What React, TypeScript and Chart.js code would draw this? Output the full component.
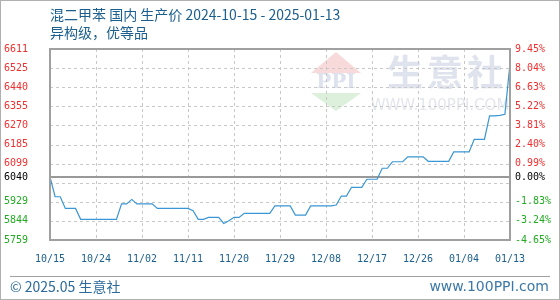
import React, { useEffect, useRef } from 'react';
import { Chart, registerables } from 'chart.js';

Chart.register(...registerables);

const TITLE = '混二甲苯 国内 生产价 2024-10-15 - 2025-01-13';
const SUBTITLE = '异构级，优等品';
const FOOTER_LEFT = '© 2025.05 生意社';
const FOOTER_RIGHT = 'www.100PPI.com';
const WATERMARK = ['生', '意', '社'];
const WATERMARK_URL = 'WWW.100PPI.COM';

const X_TICK_LABELS = ['10/15', '10/24', '11/02', '11/11', '11/20', '11/29', '12/08', '12/17', '12/26', '01/04', '01/13'];
const DAYS_PER_TICK = 9;

const BASE_PRICE = 6040;
const Y_MIN = 5759;
const Y_MAX = 6611;
const Y_INTERVALS = 10;

// daily price, 2024-10-15 .. 2025-01-13
const PRICES = [
  6040, 5952, 5952, 5900, 5900, 5900, 5851, 5851, 5851, 5851,
  5851, 5851, 5851, 5851, 5920, 5920, 5940, 5920, 5920, 5920,
  5920, 5900, 5900, 5900, 5900, 5900, 5900, 5900, 5890, 5851,
  5851, 5860, 5860, 5860, 5833, 5845, 5860, 5860, 5878, 5878,
  5878, 5878, 5878, 5878, 5911, 5911, 5911, 5911, 5870, 5870,
  5870, 5911, 5911, 5911, 5911, 5911, 5915, 5955, 5955, 5994,
  5994, 5994, 6030, 6030, 6030, 6079, 6079, 6108, 6108, 6108,
  6130, 6130, 6130, 6130, 6110, 6110, 6110, 6110, 6110, 6152,
  6152, 6152, 6152, 6208, 6208, 6208, 6313, 6313, 6315, 6320,
  6545,
];

const RED = '#f03030';
const GREEN = '#22aa22';
const BLUE_TEXT = '#1b5f8e';
const TICK_FONT = { family: '"DejaVu Sans Mono", monospace', size: 10 };

const yStep = (Y_MAX - Y_MIN) / Y_INTERVALS;
const isHiddenGrid = (v: number) => v !== BASE_PRICE && Math.abs(v - BASE_PRICE) < yStep / 2;

function buildYTicks() {
  const vals: number[] = [];
  for (let i = 0; i <= Y_INTERVALS; i++) vals.push(Y_MIN + i * yStep);
  vals.push(BASE_PRICE);
  vals.sort((a, b) => a - b);
  return vals.map((value) => ({ value }));
}

const tickColor = (v: number) => (Math.abs(v - BASE_PRICE) < 1e-6 ? '#000' : v > BASE_PRICE ? RED : GREEN);

const decorPlugin = {
  id: 'decor',
  beforeDraw(chart: any) {
    const ctx = chart.ctx as CanvasRenderingContext2D;
    const W = chart.width;
    const H = chart.height;
    ctx.save();
    ctx.fillStyle = '#fff';
    ctx.fillRect(0, 0, W, H);
    ctx.strokeStyle = '#b0b0b0';
    ctx.lineWidth = 1;
    ctx.strokeRect(0.5, 0.5, W - 1, H - 1);

    // title
    ctx.fillStyle = BLUE_TEXT;
    ctx.textAlign = 'left';
    ctx.textBaseline = 'middle';
    ctx.font = '14px "Noto Sans CJK SC", sans-serif';
    ctx.fillText(TITLE, 50, 15);
    ctx.fillText(SUBTITLE, 50, 33);

    // footer
    ctx.strokeStyle = '#a0a0a0';
    ctx.beginPath();
    ctx.moveTo(10, 276.5);
    ctx.lineTo(550, 276.5);
    ctx.stroke();
    ctx.fillStyle = '#2a6a9c';
    ctx.font = '14px "Noto Sans CJK SC", sans-serif';
    ctx.fillText(FOOTER_LEFT, 10, 287);
    ctx.textAlign = 'right';
    ctx.fillStyle = '#3c78a8';
    ctx.font = '14px "DejaVu Sans", sans-serif';
    ctx.fillText(FOOTER_RIGHT, 549, 287);

    // watermark logo
    ctx.fillStyle = '#f9dada';
    ctx.beginPath();
    ctx.moveTo(336, 52);
    ctx.lineTo(361, 73);
    ctx.lineTo(311, 73);
    ctx.closePath();
    ctx.fill();
    ctx.fillStyle = '#dde2ee';
    ctx.font = 'bold 20px "DejaVu Serif", serif';
    ctx.textAlign = 'center';
    ctx.fillText('PPI', 336, 83);
    ctx.fillStyle = '#dcf0dc';
    ctx.beginPath();
    ctx.moveTo(311, 93);
    ctx.lineTo(361, 93);
    ctx.lineTo(336, 111);
    ctx.closePath();
    ctx.fill();

    // watermark text
    ctx.fillStyle = '#dfe3ed';
    ctx.font = 'bold 36px "Noto Sans CJK SC", sans-serif';
    WATERMARK.forEach((c, i) => ctx.fillText(c, 405 + i * 40, 72));
    ctx.fillStyle = '#e4e6ec';
    ctx.font = '15px "DejaVu Sans", sans-serif';
    ctx.fillText(WATERMARK_URL, 440, 106);
    ctx.restore();
  },
  beforeDatasetsDraw(chart: any) {
    const ctx = chart.ctx as CanvasRenderingContext2D;
    const { left, right, top, bottom } = chart.chartArea;
    const xs = chart.scales.x;
    const ys = chart.scales.y;
    ctx.save();
    // dashed grid
    ctx.strokeStyle = '#c8c8c8';
    ctx.lineWidth = 1;
    ctx.setLineDash([3, 3]);
    ctx.beginPath();
    xs.ticks.forEach((t: any) => {
      const x = Math.round(xs.getPixelForValue(t.value)) + 0.5;
      ctx.moveTo(x, top);
      ctx.lineTo(x, bottom);
    });
    ys.ticks.forEach((t: any) => {
      if (t.value === BASE_PRICE) return;
      const y = Math.round(ys.getPixelForValue(t.value)) + 0.5;
      ctx.moveTo(left, y);
      ctx.lineTo(right, y);
    });
    ctx.stroke();
    ctx.setLineDash([]);
    // base line
    const yb = Math.round(ys.getPixelForValue(BASE_PRICE));
    ctx.strokeStyle = '#999';
    ctx.lineWidth = 2;
    ctx.beginPath();
    ctx.moveTo(left, yb);
    ctx.lineTo(right, yb);
    ctx.stroke();
    ctx.restore();
  },
  afterDraw(chart: any) {
    const ctx = chart.ctx as CanvasRenderingContext2D;
    const { left, right, top, bottom } = chart.chartArea;
    ctx.save();
    ctx.strokeStyle = '#a0a0a0';
    ctx.lineWidth = 2;
    ctx.strokeRect(left, top, right - left, bottom - top);
    ctx.restore();
  },
};

export default function App() {
  const ref = useRef<HTMLCanvasElement>(null);
  useEffect(() => {
    if (!ref.current) return;
    const chart = new Chart(ref.current, {
      type: 'line',
      data: {
        datasets: [
          {
            data: PRICES.map((p, i) => ({ x: i, y: p })),
            borderColor: '#3a96d4',
            borderWidth: 1.2,
            pointRadius: 0,
            tension: 0,
            fill: false,
            yAxisID: 'y',
          },
        ],
      },
      options: {
        animation: false,
        responsive: false,
        maintainAspectRatio: false,
        layout: { padding: { top: 49, left: 0, right: 0, bottom: 0 } },
        plugins: { legend: { display: false }, tooltip: { enabled: false }, title: { display: false } },
        scales: {
          x: {
            type: 'linear',
            min: 0,
            max: (X_TICK_LABELS.length - 1) * DAYS_PER_TICK,
            afterBuildTicks: (s: any) => {
              s.ticks = X_TICK_LABELS.map((_, i) => ({ value: i * DAYS_PER_TICK }));
            },
            afterFit: (s: any) => {
              s.height = 60;
            },
            grid: { display: false, drawTicks: false },
            border: { display: false },
            ticks: {
              autoSkip: false,
              maxRotation: 0,
              padding: 13,
              color: BLUE_TEXT,
              font: TICK_FONT,
              callback: (v: any) => X_TICK_LABELS[Math.round(Number(v) / DAYS_PER_TICK)] ?? '',
            },
          },
          y: {
            position: 'left',
            min: Y_MIN,
            max: Y_MAX,
            afterBuildTicks: (s: any) => {
              s.ticks = buildYTicks();
            },
            afterFit: (s: any) => {
              s.width = 50;
            },
            grid: { display: false, drawTicks: false },
            border: { display: false },
            ticks: {
              padding: 22,
              font: TICK_FONT,
              color: (c: any) => tickColor(c.tick.value),
              callback: (v: any) => {
                const n = Number(v);
                if (isHiddenGrid(n)) return '';
                return String(Math.floor(n + 1e-6));
              },
            },
          },
          y1: {
            position: 'right',
            min: Y_MIN,
            max: Y_MAX,
            afterBuildTicks: (s: any) => {
              s.ticks = buildYTicks();
            },
            afterFit: (s: any) => {
              s.width = 50;
            },
            grid: { display: false, drawTicks: false },
            border: { display: false },
            ticks: {
              padding: 5,
              font: TICK_FONT,
              color: (c: any) => tickColor(c.tick.value),
              callback: (v: any) => {
                const n = Number(v);
                if (isHiddenGrid(n)) return '';
                return (((n - BASE_PRICE) / BASE_PRICE) * 100).toFixed(2) + '%';
              },
            },
          },
        },
      },
      plugins: [decorPlugin],
    } as any);
    return () => chart.destroy();
  }, []);

  return (
    <div style={{ position: 'fixed', left: 0, top: 0, width: 560, height: 300, background: '#fff' }}>
      <canvas ref={ref} width={560} height={300} style={{ display: 'block' }} />
    </div>
  );
}
